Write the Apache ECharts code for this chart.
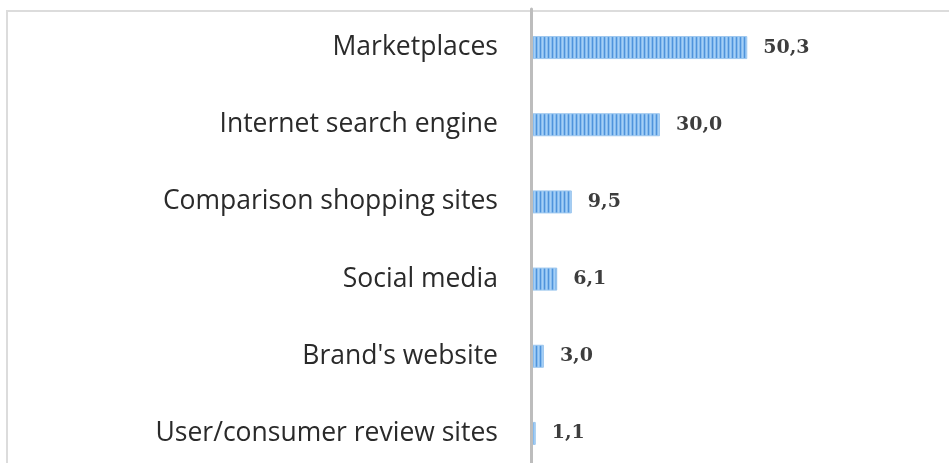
<!DOCTYPE html>
<html>
<head>
<meta charset="utf-8">
<style>
  html, body { margin: 0; padding: 0; background: #ffffff; overflow: hidden; }
  #chart { width: 949px; height: 472px; }
</style>
<script src="https://cdn.jsdelivr.net/npm/echarts@6/dist/echarts.min.js"></script>
</head>
<body>
<div id="chart"></div>
<script>
// Channels used, share of respondents (%)
const categories = [
  'Marketplaces',
  'Internet search engine',
  'Comparison shopping sites',
  'Social media',
  "Brand's website",
  'User/consumer review sites'
];
const values = [50.3, 30.0, 9.5, 6.1, 3.0, 1.1];

// Vertical pinstripe fill for the bars
function stripePattern() {
  const c = document.createElement('canvas');
  c.width = 4;
  c.height = 4;
  const ctx = c.getContext('2d');
  const cols = ['#4f93db', '#86bcef', '#a6cff5', '#86bcef'];
  cols.forEach((col, i) => {
    ctx.fillStyle = col;
    ctx.fillRect(i, 0, 1, 4);
  });
  return c;
}

const chart = echarts.init(document.getElementById('chart'), null, { renderer: 'canvas' });

chart.setOption({
  animation: false,
  backgroundColor: '#ffffff',
  graphic: [{
    type: 'polyline',
    z: -10,
    shape: { points: [[7, 480], [7, 11], [960, 11]] },
    style: { fill: null, stroke: '#dcdcdc', lineWidth: 2 }
  }],
  grid: { left: 531, top: 9, width: 258, bottom: 0, containLabel: false },
  xAxis: {
    type: 'value',
    min: 0,
    max: 60,
    show: false,
    splitLine: { show: false }
  },
  yAxis: {
    type: 'category',
    data: categories,
    inverse: true,
    z: 5,
    axisLine: { show: true, lineStyle: { color: '#bdbdbd', width: 3 } },
    axisTick: { show: false },
    axisLabel: {
      margin: 33,
      fontFamily: 'Open Sans',
      fontSize: 26.5,
      color: '#2a2a2a'
    }
  },
  series: [{
    type: 'bar',
    data: values,
    barWidth: 23,
    itemStyle: {
      color: { image: stripePattern(), repeat: 'repeat' },
      borderColor: '#9cc6ee',
      borderWidth: 1
    },
    label: {
      show: true,
      position: 'right',
      distance: 16,
      fontFamily: 'DejaVu Serif',
      fontWeight: 'bold',
      fontSize: 19,
      color: '#3d3d3d',
      formatter: p => p.value.toFixed(1).replace('.', ',')
    }
  }]
});
</script>
</body>
</html>
